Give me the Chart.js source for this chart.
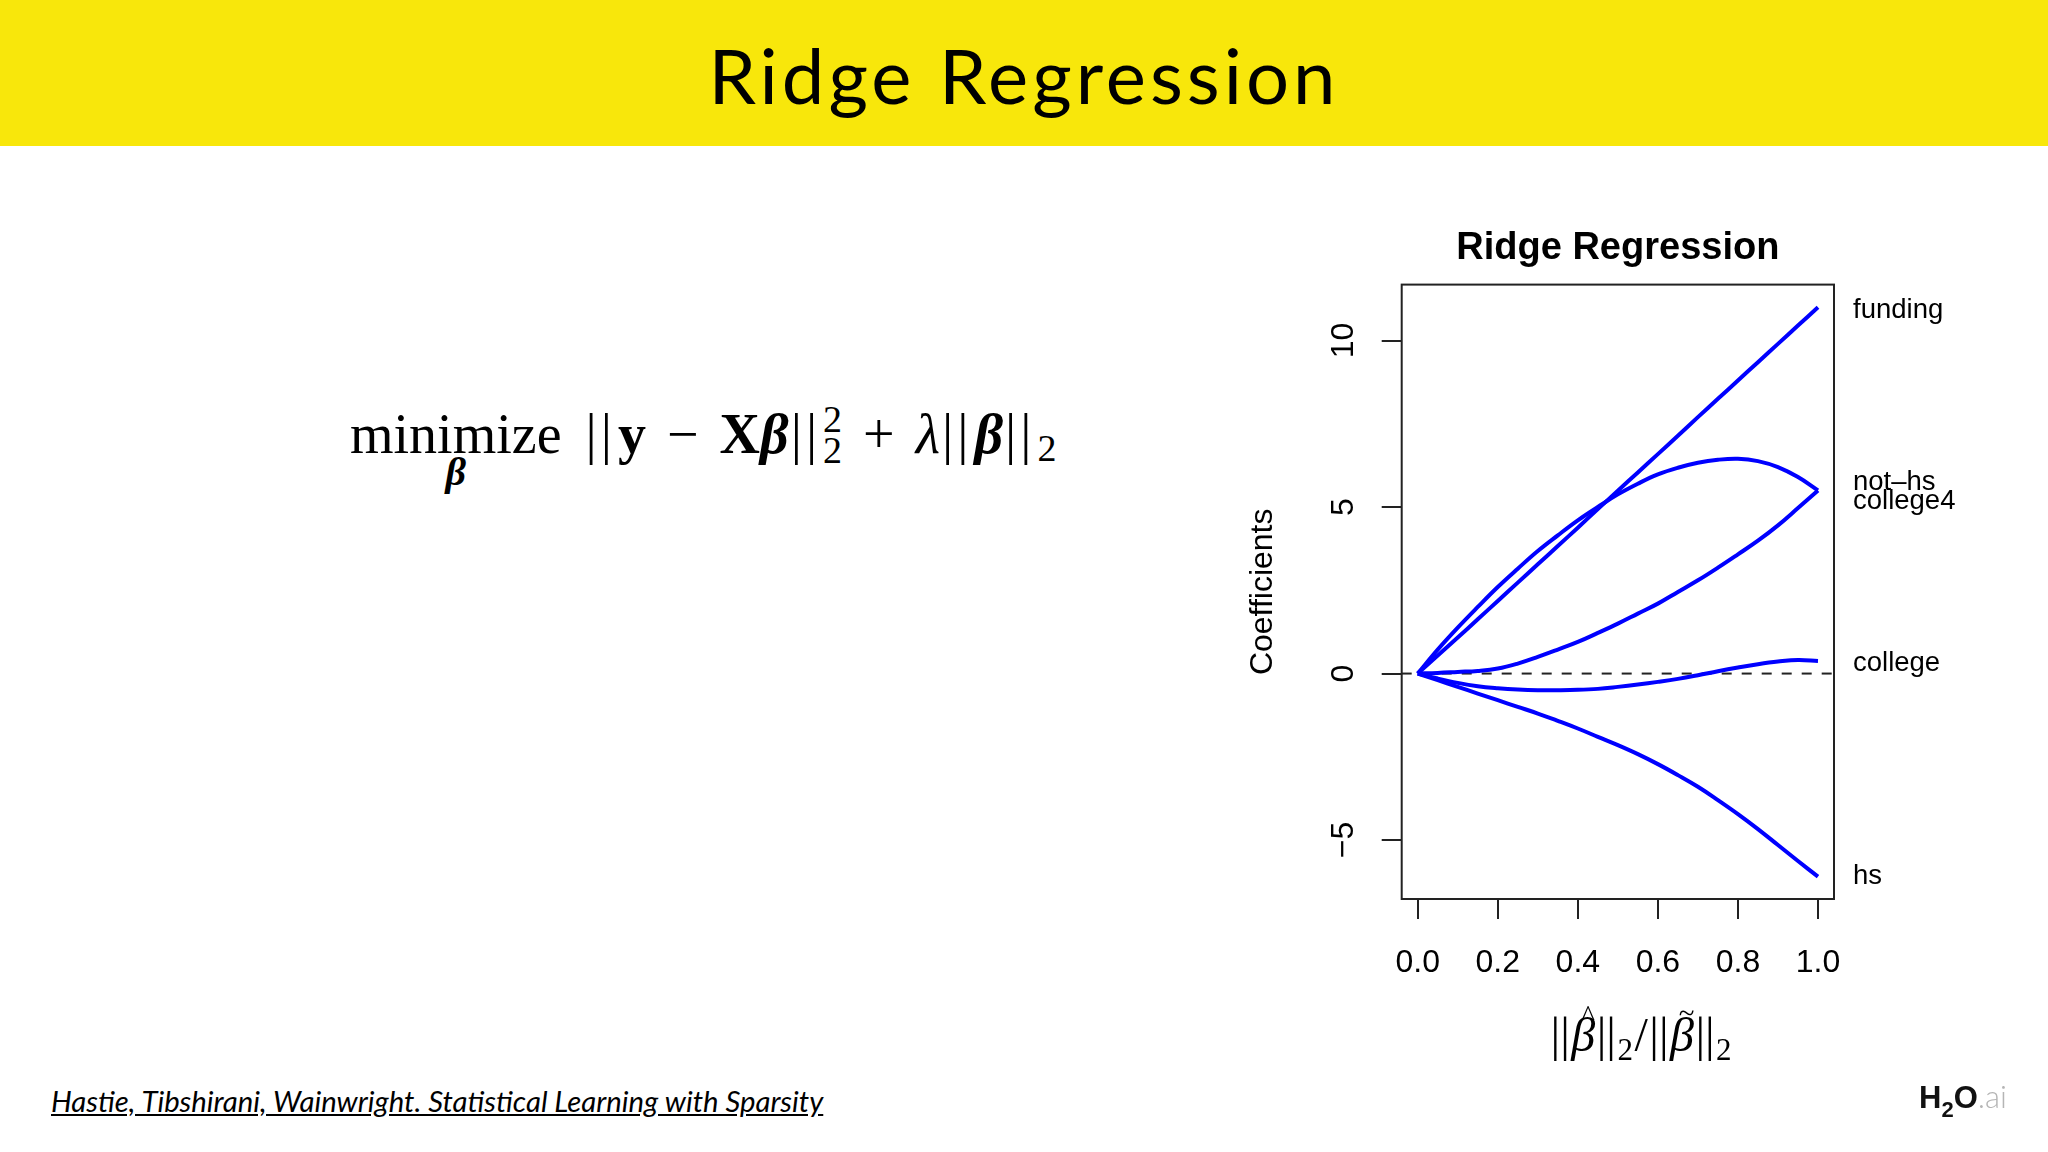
<!DOCTYPE html>
<html>
<head>
<meta charset="utf-8">
<title>Ridge Regression</title>
<script src="https://cdn.jsdelivr.net/npm/chart.js@4.4.1/dist/chart.umd.min.js"></script>
<style>
  html, body { margin: 0; padding: 0; }
  body {
    width: 2048px; height: 1152px; overflow: hidden; position: relative;
    background: #fff; color: #000;
  }
  #header {
    position: absolute; left: 0; top: 0; width: 2048px; height: 146px;
    background: #f8e70b;
  }
  #header h1 {
    position: absolute; left: 0; top: 37px; width: 2048px; margin: 0;
    text-align: center; font: 400 76px/76px "Lato", sans-serif;
    letter-spacing: 4px;
  }
  #formula {
    position: absolute; left: 350px; top: 404px; white-space: nowrap;
    font: 56px/56px "Liberation Serif", serif;
  }
  #formula .op { position: relative; display: inline-block; }
  #formula .under {
    position: absolute; left: 0; right: 0; top: 38px; text-align: center;
    font-size: 40px; font-weight: bold; font-style: italic;
  }
  #formula .gap { display: inline-block; width: 22px; }
  #formula .bars { letter-spacing: 4px; margin: 0 2px; }
  #formula .bin { margin: 0 21px; }
  #formula .ss {
    display: inline-flex; flex-direction: column; font-size: 38px; line-height: 31px;
    vertical-align: 21px; margin-left: 0;
  }
  #formula .s2 { font-size: 38px; vertical-align: -8px; }
  #cite {
    position: absolute; left: 51px; top: 1085px;
    font: italic 29.3px/32px "Lato", sans-serif; text-decoration: underline;
  }
  #logo {
    position: absolute; left: 1919px; top: 1080px;
    font: bold 31px/32px "Liberation Sans", Arial, sans-serif; color: #111;
  }
  #logo sub { font-size: 22px; vertical-align: -9px; }
  #logo span { font-weight: 300; font-family: "Lato", sans-serif; color: #b5b5b5; }
  #chartBox { position: absolute; left: 1180px; top: 190px; width: 868px; height: 920px; }
</style>
</head>
<body>
<div id="header"><h1>Ridge Regression</h1></div>

<div id="formula"><span class="op">minimize<span class="under">β</span></span><span class="gap"></span><span class="bars">||</span><b>y</b><span class="bin">−</span><b>X</b><b><i>β</i></b><span class="bars">||</span><span class="ss"><span>2</span><span>2</span></span><span class="bin">+</span><i>λ</i><span class="bars">||</span><b><i>β</i></b><span class="bars">||</span><span class="s2">2</span></div>

<div id="chartBox"><canvas id="ridgeChart" width="868" height="920"></canvas></div>

<div id="cite">Hastie, Tibshirani, Wainwright. Statistical Learning with Sparsity</div>
<div id="logo">H<sub>2</sub>O<span>.ai</span></div>

<script>
// shrinkage factor ||b_hat||2 / ||b_tilde||2
const xValues = [0, 0.05, 0.1, 0.15, 0.2, 0.25, 0.3, 0.35, 0.4, 0.45, 0.5,
                 0.55, 0.6, 0.65, 0.7, 0.75, 0.8, 0.85, 0.9, 0.95, 1.0];

// coefficient paths
const funding  = [0, 0.54, 1.08, 1.63, 2.18, 2.73, 3.28, 3.83, 4.38, 4.94, 5.49,
                  6.04, 6.59, 7.14, 7.7, 8.25, 8.8, 9.35, 9.9, 10.45, 11.0];
const notHs    = [0, 0.72, 1.38, 2.0, 2.6, 3.15, 3.68, 4.15, 4.6, 5.0, 5.38,
                  5.7, 5.98, 6.18, 6.33, 6.42, 6.45, 6.38, 6.2, 5.9, 5.5];
const college4 = [0, 0.02, 0.05, 0.08, 0.15, 0.3, 0.5, 0.72, 0.95, 1.22, 1.5,
                  1.8, 2.1, 2.45, 2.8, 3.18, 3.58, 3.99, 4.45, 4.97, 5.5];
const college  = [0, -0.15, -0.28, -0.38, -0.44, -0.48, -0.5, -0.5, -0.49, -0.46, -0.4,
                  -0.33, -0.25, -0.16, -0.05, 0.07, 0.18, 0.28, 0.36, 0.41, 0.38];
const hs       = [0, -0.2, -0.4, -0.6, -0.8, -1.0, -1.2, -1.42, -1.65, -1.9, -2.15,
                  -2.42, -2.72, -3.05, -3.4, -3.8, -4.22, -4.67, -5.15, -5.63, -6.1];

const seriesNames = ['funding', 'not–hs', 'college4', 'college', 'hs'];
const seriesData = [funding, notHs, college4, college, hs];

const xTicks = [0, 0.2, 0.4, 0.6, 0.8, 1.0];
const xTickLabels = ['0.0', '0.2', '0.4', '0.6', '0.8', '1.0'];
const yTicks = [-5, 0, 5, 10];
const yTickLabels = ['−5', '0', '5', '10'];

const xLimits = [-0.04, 1.04];
const yLimits = [-6.77, 11.68];

const FONT = '"Liberation Sans", Arial, Helvetica, sans-serif';
const SERIF = '"Liberation Serif", "DejaVu Serif", serif';

// the two lines ending at ~5.5 get their labels pushed apart, like in R
const labelNudge = [3, -8, 11, 3, 0];

const endLabels = {
    id: 'endLabels',
    afterDatasetsDraw(chart) {
        const {ctx, chartArea, scales} = chart;
        ctx.save();
        ctx.font = '27.5px ' + FONT;
        ctx.fillStyle = '#000';
        ctx.textAlign = 'left';
        ctx.textBaseline = 'middle';
        seriesData.forEach((vals, i) => {
            const yPix = scales.y.getPixelForValue(vals[vals.length - 1]) + labelNudge[i];
            ctx.fillText(seriesNames[i], chartArea.right + 19, yPix);
        });
        ctx.restore();
    }
};

// x axis title ||beta_hat||_2 / ||beta_tilde||_2, set piece by piece
const xTitle = {
    id: 'xTitle',
    afterDraw(chart) {
        const {ctx, chartArea} = chart;
        const big = '48px ' + SERIF;
        const ital = 'italic 48px ' + SERIF;
        const small = '31px ' + SERIF;
        const parts = [
            {t: '||', f: big, dy: 0},
            {t: 'β', f: ital, dy: 0, acc: '^', accDy: -25},
            {t: '||', f: big, dy: 0},
            {t: '2', f: small, dy: 9},
            {t: '/', f: big, dy: 0},
            {t: '||', f: big, dy: 0},
            {t: 'β', f: ital, dy: 0, acc: '~', accDy: -28},
            {t: '||', f: big, dy: 0},
            {t: '2', f: small, dy: 9}
        ];
        ctx.save();
        ctx.fillStyle = '#000';
        ctx.textBaseline = 'alphabetic';
        ctx.textAlign = 'left';
        let total = 0;
        parts.forEach(p => {
            ctx.font = p.f;
            p.w = ctx.measureText(p.t).width + 1.5;
            total += p.w;
        });
        let x = (chartArea.left + chartArea.right) / 2 + 24 - total / 2;
        const base = chartArea.bottom + 152;
        parts.forEach(p => {
            ctx.font = p.f;
            ctx.fillText(p.t, x, base + p.dy);
            if (p.acc) {
                ctx.font = '29px ' + SERIF;
                ctx.textAlign = 'center';
                ctx.fillText(p.acc, x + p.w / 2 + 4, base + p.accDy);
                ctx.textAlign = 'left';
            }
            x += p.w;
        });
        ctx.restore();
    }
};

const plotBox = {
    id: 'plotBox',
    afterDraw(chart) {
        const {ctx, chartArea: a} = chart;
        ctx.save();
        ctx.strokeStyle = '#222';
        ctx.lineWidth = 2;
        ctx.strokeRect(a.left, a.top, a.right - a.left, a.bottom - a.top);
        ctx.restore();
    }
};

const datasets = seriesData.map((vals, i) => ({
    label: seriesNames[i],
    data: xValues.map((x, j) => ({x: x, y: vals[j]})),
    borderColor: '#0000ff',
    borderWidth: 4,
    pointRadius: 0,
    fill: false,
    tension: 0.4
}));

datasets.push({
    label: 'zero',
    data: [{x: xLimits[0], y: 0}, {x: xLimits[1], y: 0}],
    borderColor: '#222',
    borderWidth: 2,
    borderDash: [10, 10],
    pointRadius: 0,
    fill: false
});

new Chart("ridgeChart", {
    type: "line",
    data: {datasets: datasets},
    plugins: [endLabels, plotBox, xTitle],
    options: {
        responsive: false,
        animation: false,
        devicePixelRatio: 1,
        layout: {padding: {left: 21.7, right: 214, top: 0, bottom: 0}},
        plugins: {
            legend: {display: false},
            tooltip: {enabled: false},
            title: {
                display: true,
                text: 'Ridge Regression',
                fullSize: false,
                color: '#000',
                font: {family: FONT, size: 38, weight: 'bold'},
                padding: {top: 36, bottom: 13}
            }
        },
        scales: {
            x: {
                type: 'linear',
                min: xLimits[0],
                max: xLimits[1],
                afterBuildTicks: (scale) => { scale.ticks = xTicks.map(v => ({value: v})); },
                afterFit: (scale) => { scale.height = 211; },
                ticks: {
                    callback: (v, i) => xTickLabels[i],
                    autoSkip: false,
                    maxRotation: 0,
                    padding: 25,
                    color: '#000',
                    font: {family: FONT, size: 32}
                },
                grid: {drawOnChartArea: false, drawTicks: true, tickLength: 20, color: '#222', lineWidth: 2},
                border: {display: false},
                title: {display: false}
            },
            y: {
                type: 'linear',
                min: yLimits[0],
                max: yLimits[1],
                afterBuildTicks: (scale) => { scale.ticks = yTicks.map(v => ({value: v})); },
                afterFit: (scale) => { scale.width = 200; },
                ticks: {
                    callback: (v, i) => yTickLabels[i],
                    autoSkip: false,
                    minRotation: 90,
                    maxRotation: 90,
                    crossAlign: 'center',
                    padding: 19,
                    color: '#000',
                    font: {family: FONT, size: 32}
                },
                grid: {drawOnChartArea: false, drawTicks: true, tickLength: 20, color: '#222', lineWidth: 2},
                border: {display: false},
                title: {
                    display: true,
                    text: 'Coefficients',
                    color: '#000',
                    font: {family: FONT, size: 32},
                    padding: {top: 42, bottom: 0}
                }
            }
        }
    }
});
</script>
</body>
</html>
